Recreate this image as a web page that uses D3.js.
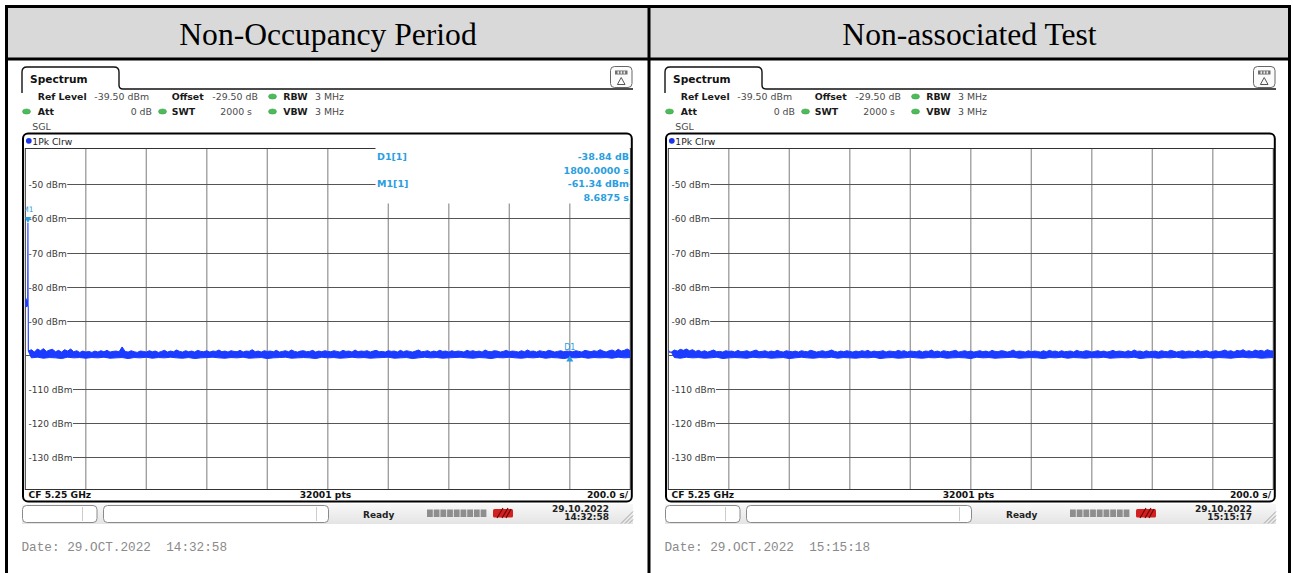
<!DOCTYPE html>
<html>
<head>
<meta charset="utf-8">
<script src="https://cdn.jsdelivr.net/npm/d3@7"></script>
<style>
  html, body { margin: 0; padding: 0; background: #fff; }
  svg { display: block; }
</style>
</head>
<body>
<svg id="chart" width="1293" height="573"></svg>
<script>
// ---- data -------------------------------------------------------------
const panelTitles = ["Non-Occupancy Period", "Non-associated Test"];
const levelTicks = [-50, -60, -70, -80, -90, -100, -110, -120, -130];
const levelTickLabels = ["-50 dBm", "-60 dBm", "-70 dBm", "-80 dBm", "-90 dBm", "", "-110 dBm", "-120 dBm", "-130 dBm"];
const sweepSeconds = 2000;          // 10 divisions of 200 s
const refLevel = -39.5;             // top of the diagram, dBm
const levelRange = 100;             // dB across the diagram

// trace start (left): samples before the noise floor settles, with the peak
const startTimesA = [0, 0.8, 1.6, 2.4, 3.2, 4.0, 4.8, 5.6, 6.4, 7.2, 8.0, 8.6875, 9.2, 9.8];
const startLevelsA = [-83.6, -86.1, -83.8, -85.9, -83.5, -86.0, -84.0, -85.7, -84.2, -85.8, -84.1, -61.34, -85.6, -86.0];
const startTimesB = [0, 4];
const startLevelsB = [-98.7, -99.2];

// noise floor: upper envelope every 10 s (10 .. 2000 s)
const peakEnvelopeA = [
  -98.9,-98.5,-99.2,-98.3,-98.8,-98.2,-99.0,-98.6,-98.4,-99.1,-98.7,-99.2,-98.5,-98.9,-98.3,-99.1,-98.8,-99.3,-98.9,-99.2,
  -99.0,-99.3,-98.9,-99.2,-98.8,-99.1,-98.7,-99.2,-99.0,-98.9,-99.1,-97.7,-99.0,-99.2,-98.8,-99.1,-99.3,-98.9,-99.0,-99.2,
  -98.8,-99.1,-98.9,-99.3,-99.0,-98.7,-99.2,-98.9,-99.1,-98.6,-99.0,-99.2,-98.8,-99.1,-98.9,-99.2,-98.7,-99.0,-99.1,-98.8,
  -99.2,-98.9,-99.0,-98.6,-99.1,-98.9,-99.2,-98.8,-99.0,-99.1,-98.7,-99.2,-98.9,-99.0,-98.5,-99.1,-98.9,-99.2,-98.8,-99.0,
  -98.9,-99.1,-98.7,-99.2,-99.0,-98.8,-99.1,-98.6,-99.0,-99.2,-98.9,-98.8,-99.1,-99.0,-98.7,-99.2,-98.9,-99.1,-98.8,-99.0,
  -99.1,-98.8,-99.0,-99.2,-98.7,-99.0,-98.9,-99.2,-98.6,-99.1,-98.9,-99.0,-98.8,-99.2,-98.9,-98.7,-99.1,-99.0,-99.2,-98.8,
  -99.0,-98.9,-99.2,-98.7,-99.1,-98.8,-99.0,-99.2,-98.9,-98.6,-99.1,-99.0,-98.8,-99.2,-98.9,-99.1,-98.7,-99.0,-98.9,-99.2,
  -98.8,-99.1,-98.9,-99.0,-99.2,-98.7,-99.0,-98.8,-99.1,-98.9,-99.2,-98.6,-99.0,-99.1,-98.8,-98.9,-99.2,-99.0,-98.7,-99.1,
  -98.9,-99.0,-99.2,-98.8,-99.1,-98.6,-99.0,-98.9,-99.2,-98.8,-99.0,-99.1,-98.7,-98.9,-99.2,-99.0,-98.8,-99.1,-98.9,-99.0,
  -99.1,-98.8,-99.0,-99.2,-98.7,-98.9,-99.1,-98.8,-99.0,-98.5,-98.9,-99.2,-98.8,-98.6,-99.0,-98.4,-98.9,-98.7,-98.3,-98.8
];
const peakEnvelopeB = [
  -99.2,-98.6,-98.9,-98.4,-98.7,-98.3,-98.8,-98.5,-99.0,-98.7,-99.1,-98.8,-99.2,-98.9,-98.6,-99.1,-99.0,-99.2,-98.8,-99.0,
  -98.9,-99.2,-98.7,-99.1,-99.0,-98.8,-99.2,-98.9,-98.6,-99.1,-99.0,-98.8,-99.2,-98.9,-99.1,-98.7,-99.0,-99.2,-98.8,-99.0,
  -99.1,-98.9,-99.2,-98.8,-99.0,-99.1,-98.7,-98.9,-99.2,-99.0,-98.8,-99.1,-98.9,-98.6,-99.0,-99.2,-98.9,-99.1,-98.8,-99.0,
  -99.2,-98.9,-99.1,-98.8,-99.0,-98.7,-99.2,-98.9,-99.1,-99.0,-98.8,-99.2,-98.9,-99.0,-99.1,-98.7,-99.0,-98.8,-99.2,-98.9,
  -99.0,-99.1,-98.8,-99.2,-98.9,-99.0,-98.6,-99.1,-98.9,-99.2,-98.8,-99.0,-99.1,-98.9,-98.7,-99.2,-99.0,-98.8,-99.1,-98.9,
  -99.2,-99.0,-98.8,-99.1,-98.9,-99.2,-98.7,-99.0,-99.1,-98.8,-98.9,-99.2,-99.0,-98.6,-99.1,-98.9,-99.0,-99.2,-98.8,-99.1,
  -98.9,-99.0,-99.2,-98.8,-99.1,-98.7,-99.0,-98.9,-99.2,-98.8,-99.1,-99.0,-98.9,-99.2,-98.7,-99.0,-99.1,-98.8,-98.9,-99.2,
  -99.0,-98.8,-99.1,-98.9,-99.2,-99.0,-98.7,-99.1,-98.9,-99.0,-99.2,-98.8,-99.1,-98.6,-99.0,-98.9,-99.2,-98.8,-99.1,-99.0,
  -98.9,-99.2,-98.8,-99.0,-99.1,-98.7,-98.9,-99.2,-99.0,-98.8,-99.1,-98.9,-99.0,-99.2,-98.7,-99.1,-98.9,-98.8,-99.2,-99.0,
  -98.8,-99.1,-98.9,-98.6,-99.0,-98.8,-99.2,-98.7,-98.9,-98.5,-99.0,-98.8,-99.1,-98.6,-98.9,-98.7,-99.0,-98.5,-98.8,-98.9
];
// noise floor: lower envelope every 20 s (20 .. 2000 s)
const floorEnvelopeA = [
  -100.9,-100.7,-101.0,-100.8,-100.9,-101.1,-100.7,-100.9,-100.8,-101.0,
  -100.8,-100.9,-100.7,-101.0,-100.9,-100.8,-101.1,-100.8,-100.9,-100.7,
  -101.0,-100.8,-100.9,-100.7,-100.9,-101.0,-100.8,-101.1,-100.9,-100.8,
  -100.7,-100.9,-101.0,-100.8,-100.9,-100.7,-101.0,-100.9,-100.8,-101.1,
  -100.9,-100.8,-100.7,-101.0,-100.9,-100.8,-100.9,-101.1,-100.7,-100.9,
  -100.8,-101.0,-100.9,-100.7,-100.9,-100.8,-101.0,-100.9,-100.8,-100.7,
  -101.0,-100.9,-100.8,-101.1,-100.9,-100.7,-100.9,-100.8,-101.0,-100.9,
  -100.8,-100.7,-100.9,-101.0,-100.8,-100.9,-101.1,-100.8,-100.9,-100.7,
  -100.9,-101.0,-100.8,-100.9,-100.7,-101.0,-100.8,-100.9,-101.1,-100.8,
  -100.9,-100.7,-101.0,-100.8,-100.9,-100.8,-101.0,-100.7,-100.9,-100.8
];
const floorEnvelopeB = [
  -100.8,-101.0,-100.7,-100.9,-100.8,-101.0,-100.9,-100.7,-101.1,-100.9,
  -100.8,-100.9,-101.0,-100.7,-100.9,-100.8,-101.0,-100.9,-100.8,-101.1,
  -100.9,-100.7,-100.9,-101.0,-100.8,-100.9,-100.7,-101.0,-100.8,-100.9,
  -101.0,-100.8,-100.9,-100.7,-101.1,-100.9,-100.8,-101.0,-100.9,-100.7,
  -100.9,-101.0,-100.8,-100.9,-100.7,-101.0,-100.9,-100.8,-100.9,-101.1,
  -100.7,-100.9,-100.8,-101.0,-100.9,-100.8,-100.7,-101.0,-100.9,-100.8,
  -100.9,-101.1,-100.8,-100.9,-100.7,-101.0,-100.8,-100.9,-101.0,-100.8,
  -100.9,-100.7,-101.0,-100.9,-100.8,-100.9,-100.7,-101.1,-100.9,-100.8,
  -101.0,-100.8,-100.9,-100.7,-101.0,-100.9,-100.8,-100.9,-100.7,-101.0,
  -100.8,-100.9,-101.0,-100.8,-100.7,-100.9,-100.8,-101.0,-100.9,-100.8
];

// marker readout (left sweep)
const markerM1 = { label: "M1[1]", time: 8.6875, level: -61.34 };
const markerD1 = { label: "D1[1]", time: 1800.0, delta: -38.84 };

const instrumentSettings = {
  refLevel: "-39.50 dBm", offset: "-29.50 dB", rbw: "3 MHz",
  att: "0 dB", swt: "2000 s", vbw: "3 MHz", mode: "SGL", trace: "1Pk Clrw",
  center: "CF 5.25 GHz", points: "32001 pts", perDiv: "200.0 s/"
};
const sweepStamps = [
  { date: "29.10.2022", time: "14:32:58", footer: "Date: 29.OCT.2022  14:32:58" },
  { date: "29.10.2022", time: "15:15:17", footer: "Date: 29.OCT.2022  15:15:18" }
];

// ---- drawing ------------------------------------------------------------
const svg = d3.select("#chart");
const UI = "DejaVu Sans, Verdana, sans-serif";
const TRACE = "#1b3bff";
const MARK = "#2a9ee0";
const GREEN = "#4cbb5a";

const defs = svg.append("defs");
const grad = defs.append("linearGradient").attr("id", "statusGrad")
  .attr("x1", 0).attr("y1", 0).attr("x2", 0).attr("y2", 1);
grad.append("stop").attr("offset", "0%").attr("stop-color", "#f8f8f8");
grad.append("stop").attr("offset", "100%").attr("stop-color", "#e4e4e4");

// table: header band, borders and titles
svg.append("rect").attr("x", 8).attr("y", 8).attr("width", 1281).attr("height", 50).attr("fill", "#d9d9d9");
const border = svg.append("g").attr("stroke", "#000").attr("stroke-width", 3).attr("fill", "none");
border.append("line").attr("x1", 5).attr("x2", 1291).attr("y1", 6.5).attr("y2", 6.5);
border.append("line").attr("x1", 6.5).attr("x2", 6.5).attr("y1", 5).attr("y2", 573);
border.append("line").attr("x1", 1289.5).attr("x2", 1289.5).attr("y1", 5).attr("y2", 573);
border.append("line").attr("x1", 649).attr("x2", 649).attr("y1", 5).attr("y2", 573);
border.append("line").attr("x1", 5).attr("x2", 1291).attr("y1", 59).attr("y2", 59);

const titleCenters = [328, 969.5];
panelTitles.forEach((t, i) => {
  svg.append("text").attr("x", titleCenters[i]).attr("y", 44.5)
    .attr("text-anchor", "middle")
    .attr("font-family", "Liberation Serif, Times New Roman, serif")
    .attr("font-size", 31.6).attr("fill", "#000").text(t);
});

function drawPanel(index, dx, opts) {
  const g = svg.append("g").attr("transform", `translate(${dx},0)`);
  const x = d3.scaleLinear().domain([0, sweepSeconds]).range([25.3, 630.3]);
  const y = d3.scaleLinear().domain([refLevel - levelRange, refLevel]).range([489.5, 148.5]);
  const [gx0, gx1] = x.range();
  const [gy1, gy0] = y.range();

  // "Spectrum" tab and the line running to the right edge
  g.append("path")
    .attr("d", "M22,93 V72 Q22,67 27,67 H114 Q119,67 119,72 V85 Q119,89 123,89 H633")
    .attr("fill", "none").attr("stroke", "#111").attr("stroke-width", 1.4);
  g.append("text").attr("x", 30).attr("y", 82.5).attr("font-family", UI)
    .attr("font-size", 10.6).attr("font-weight", "bold").attr("fill", "#111").text("Spectrum");

  // small display-config icon
  g.append("rect").attr("x", 610.5).attr("y", 66.5).attr("width", 21.5).attr("height", 21)
    .attr("rx", 4).attr("fill", "#fbfbfb").attr("stroke", "#666").attr("stroke-width", 1);
  g.append("rect").attr("x", 615).attr("y", 70.5).attr("width", 12.5).attr("height", 4).attr("fill", "#6e6e6e");
  [617.5, 620.5, 623.5].forEach(px => g.append("rect").attr("x", px).attr("y", 71.3).attr("width", 1.6).attr("height", 2.4).attr("fill", "#eee"));
  g.append("path").attr("d", "M621.2,77.5 L617.4,84.5 L625,84.5 Z").attr("fill", "none").attr("stroke", "#555").attr("stroke-width", 1);

  // instrument settings
  const hdr = g.append("g").attr("font-family", UI).attr("font-size", 9.4);
  const bold = (tx, ty, s) => hdr.append("text").attr("x", tx).attr("y", ty).attr("font-weight", "bold").attr("fill", "#1a1a1a").text(s);
  const plain = (tx, ty, s, anchor) => hdr.append("text").attr("x", tx).attr("y", ty).attr("fill", "#4a4a4a").attr("text-anchor", anchor || "start").text(s);
  const dot = (cx, cy) => hdr.append("ellipse").attr("cx", cx).attr("cy", cy).attr("rx", 4).attr("ry", 2.6).attr("fill", GREEN).attr("stroke", "#3a9a48").attr("stroke-width", 0.5);
  bold(37.7, 99.5, "Ref Level"); plain(94.3, 99.5, instrumentSettings.refLevel);
  bold(171.7, 99.5, "Offset"); plain(212.3, 99.5, instrumentSettings.offset);
  dot(272.5, 96.5); bold(283.3, 99.5, "RBW"); plain(315, 99.5, instrumentSettings.rbw);
  dot(26.5, 111.5); bold(37.7, 114.5, "Att"); plain(152, 114.5, instrumentSettings.att, "end");
  dot(162.5, 111.5); bold(171.7, 114.5, "SWT"); plain(252, 114.5, instrumentSettings.swt, "end");
  dot(272.5, 111.5); bold(283.3, 114.5, "VBW"); plain(315, 114.5, instrumentSettings.vbw);
  plain(32.3, 129.5, instrumentSettings.mode);

  // trace label row
  g.append("circle").attr("cx", 28.8).attr("cy", 140.8).attr("r", 2.9).attr("fill", "#1c35e6");
  g.append("text").attr("x", 32.3).attr("y", 144.5).attr("font-family", UI).attr("font-size", 9.2)
    .attr("fill", "#222").text(instrumentSettings.trace);

  // grid
  const grid = g.append("g");
  const vTicks = x.ticks(10).filter(t => t > 0 && t < sweepSeconds);
  grid.selectAll("line.v").data(vTicks).join("line").attr("class", "v")
    .attr("x1", d => x(d)).attr("x2", d => x(d)).attr("y1", gy0).attr("y2", gy1)
    .attr("stroke", "#9a9a9a").attr("stroke-width", 1.3);
  grid.append("rect").attr("x", gx0).attr("y", gy0).attr("width", gx1 - gx0).attr("height", gy1 - gy0)
    .attr("fill", "none").attr("stroke", "#333").attr("stroke-width", 1);

  const lab = g.append("g").attr("font-family", UI).attr("font-size", 9).attr("fill", "#3a3a3a");
  levelTicks.forEach((lv, i) => {
    const yy = Math.round(y(lv)) + 0.5;
    let start = gx0;
    if (levelTickLabels[i]) {
      const t = lab.append("text").attr("x", 28.5).attr("y", yy + 3.3).text(levelTickLabels[i]);
      start = 28.5 + t.node().getComputedTextLength() + 0.5;
    }
    grid.append("line").attr("x1", start).attr("x2", gx1).attr("y1", yy).attr("y2", yy)
      .attr("stroke", "#555").attr("stroke-width", 1);
  });

  // trace
  const clipId = "plotClip" + index;
  defs.append("clipPath").attr("id", clipId).append("rect")
    .attr("x", dx + gx0).attr("y", gy0).attr("width", gx1 - gx0).attr("height", gy1 - gy0);
  const tr = svg.append("g").attr("clip-path", `url(#${clipId})`).append("g").attr("transform", `translate(${dx},0)`);

  const upper = opts.peaks.map((v, i) => [(i + 1) * 10, v]);
  const lower = opts.floor.map((v, i) => [(i + 1) * 20, v]);
  const line = d3.line().x(d => x(d[0])).y(d => y(d[1]));
  const startPts = opts.startTimes.map((t, i) => [t, opts.startLevels[i]]);
  tr.append("path").attr("d", line(startPts.concat([upper[0]])))
    .attr("fill", "none").attr("stroke", TRACE).attr("stroke-width", 1.1);
  tr.append("path").attr("d", line(upper.concat(lower.slice().reverse())) + "Z")
    .attr("fill", TRACE).attr("stroke", TRACE).attr("stroke-width", 1).attr("stroke-linejoin", "round");

  if (opts.markers) {
    // readout box over the upper right of the grid
    g.append("rect").attr("x", 375.5).attr("y", gy0 - 1).attr("width", gx1 - 376).attr("height", 203.5 - gy0 + 1).attr("fill", "#fff");
    const mk = g.append("g").attr("font-family", UI).attr("font-size", 9.5).attr("font-weight", "bold").attr("fill", MARK);
    const d1Level = markerM1.level + markerD1.delta;
    mk.append("text").attr("x", 377).attr("y", 160.3).text(markerD1.label);
    mk.append("text").attr("x", 629).attr("y", 160.3).attr("text-anchor", "end").text(markerD1.delta.toFixed(2) + " dB");
    mk.append("text").attr("x", 629).attr("y", 173.5).attr("text-anchor", "end").text(markerD1.time.toFixed(4) + " s");
    mk.append("text").attr("x", 377).attr("y", 187.3).text(markerM1.label);
    mk.append("text").attr("x", 629).attr("y", 187.3).attr("text-anchor", "end").text(markerM1.level.toFixed(2) + " dBm");
    mk.append("text").attr("x", 629).attr("y", 200.7).attr("text-anchor", "end").text(markerM1.time.toFixed(4) + " s");

    // marker symbols on the trace
    const mx = x(markerM1.time), my = y(markerM1.level);
    tr.append("path").attr("d", `M${mx - 3.5},${my - 6} L${mx + 3.5},${my - 6} L${mx},${my} Z`).attr("fill", MARK);
    tr.append("text").attr("x", mx).attr("y", my - 11).attr("text-anchor", "middle")
      .attr("font-family", UI).attr("font-size", 7.5).attr("fill", MARK).text("M1");
    const dxp = x(markerD1.time), dyp = y(d1Level);
    tr.append("path").attr("d", `M${dxp},${dyp} L${dxp - 3.5},${dyp + 6} L${dxp + 3.5},${dyp + 6} Z`).attr("fill", MARK);
    tr.append("text").attr("x", dxp).attr("y", dyp - 5).attr("text-anchor", "middle")
      .attr("font-family", UI).attr("font-size", 8).attr("fill", MARK).text("D1");
  }

  // outer diagram frame and bottom info row
  g.append("rect").attr("x", 23).attr("y", 133.5).attr("width", 608.8).attr("height", 368)
    .attr("rx", 5).attr("fill", "none").attr("stroke", "#000").attr("stroke-width", 2);
  const foot = g.append("g").attr("font-family", UI).attr("font-size", 9.2).attr("font-weight", "bold").attr("fill", "#111");
  foot.append("text").attr("x", 28.5).attr("y", 498.3).text(instrumentSettings.center);
  foot.append("text").attr("x", 325.5).attr("y", 498.3).attr("text-anchor", "middle").text(instrumentSettings.points);
  foot.append("text").attr("x", 628).attr("y", 498.3).attr("text-anchor", "end").text(instrumentSettings.perDiv);

  // status bar
  g.append("rect").attr("x", 22).attr("y", 504).attr("width", 611).attr("height", 20).attr("fill", "url(#statusGrad)");
  g.append("rect").attr("x", 22.5).attr("y", 505.5).attr("width", 74.5).attr("height", 17).attr("rx", 4)
    .attr("fill", "#fff").attr("stroke", "#8a8a8a");
  g.append("line").attr("x1", 82.5).attr("x2", 82.5).attr("y1", 507).attr("y2", 521).attr("stroke", "#ccc");
  g.append("rect").attr("x", 103.5).attr("y", 505.5).attr("width", 225).attr("height", 17).attr("rx", 4)
    .attr("fill", "#fff").attr("stroke", "#8a8a8a");
  g.append("line").attr("x1", 316.5).attr("x2", 316.5).attr("y1", 507).attr("y2", 521).attr("stroke", "#ccc");
  const st = g.append("g").attr("font-family", UI).attr("font-size", 9).attr("font-weight", "bold").attr("fill", "#222");
  st.append("text").attr("x", 363).attr("y", 517.5).text("Ready");
  d3.range(9).forEach(k => g.append("rect").attr("x", 427 + k * 6.7).attr("y", 509.5).attr("width", 5.8).attr("height", 7.5).attr("fill", "#8e8e8e"));
  g.append("rect").attr("x", 493).attr("y", 509).attr("width", 20).attr("height", 8.5).attr("rx", 1.5).attr("fill", "#d42020");
  g.append("path").attr("d", "M497,518 L503,508 M502,518 L508,508 M506,518 L511,509").attr("stroke", "#6a0a0a").attr("stroke-width", 1.2);
  st.append("text").attr("x", 609).attr("y", 512).attr("text-anchor", "end").text(sweepStamps[index].date);
  st.append("text").attr("x", 609).attr("y", 519.6).attr("text-anchor", "end").text(sweepStamps[index].time);
  [0, 4, 8, 12].forEach(o => g.append("line").attr("x1", 621 + o).attr("y1", 523.5).attr("x2", 633).attr("y2", 511.5 + o)
    .attr("stroke", "#999").attr("stroke-width", 0.9));

  // footer date line
  g.append("text").attr("x", 21.5).attr("y", 551).attr("font-family", "Liberation Mono, Courier New, monospace")
    .attr("font-size", 12.7).attr("fill", "#8a8a8a").attr("xml:space", "preserve").style("white-space", "pre")
    .text(sweepStamps[index].footer);
}

drawPanel(0, 0, {
  startTimes: startTimesA, startLevels: startLevelsA,
  peaks: peakEnvelopeA, floor: floorEnvelopeA, markers: true
});
drawPanel(1, 643, {
  startTimes: startTimesB, startLevels: startLevelsB,
  peaks: peakEnvelopeB, floor: floorEnvelopeB, markers: false
});
</script>
</body>
</html>
